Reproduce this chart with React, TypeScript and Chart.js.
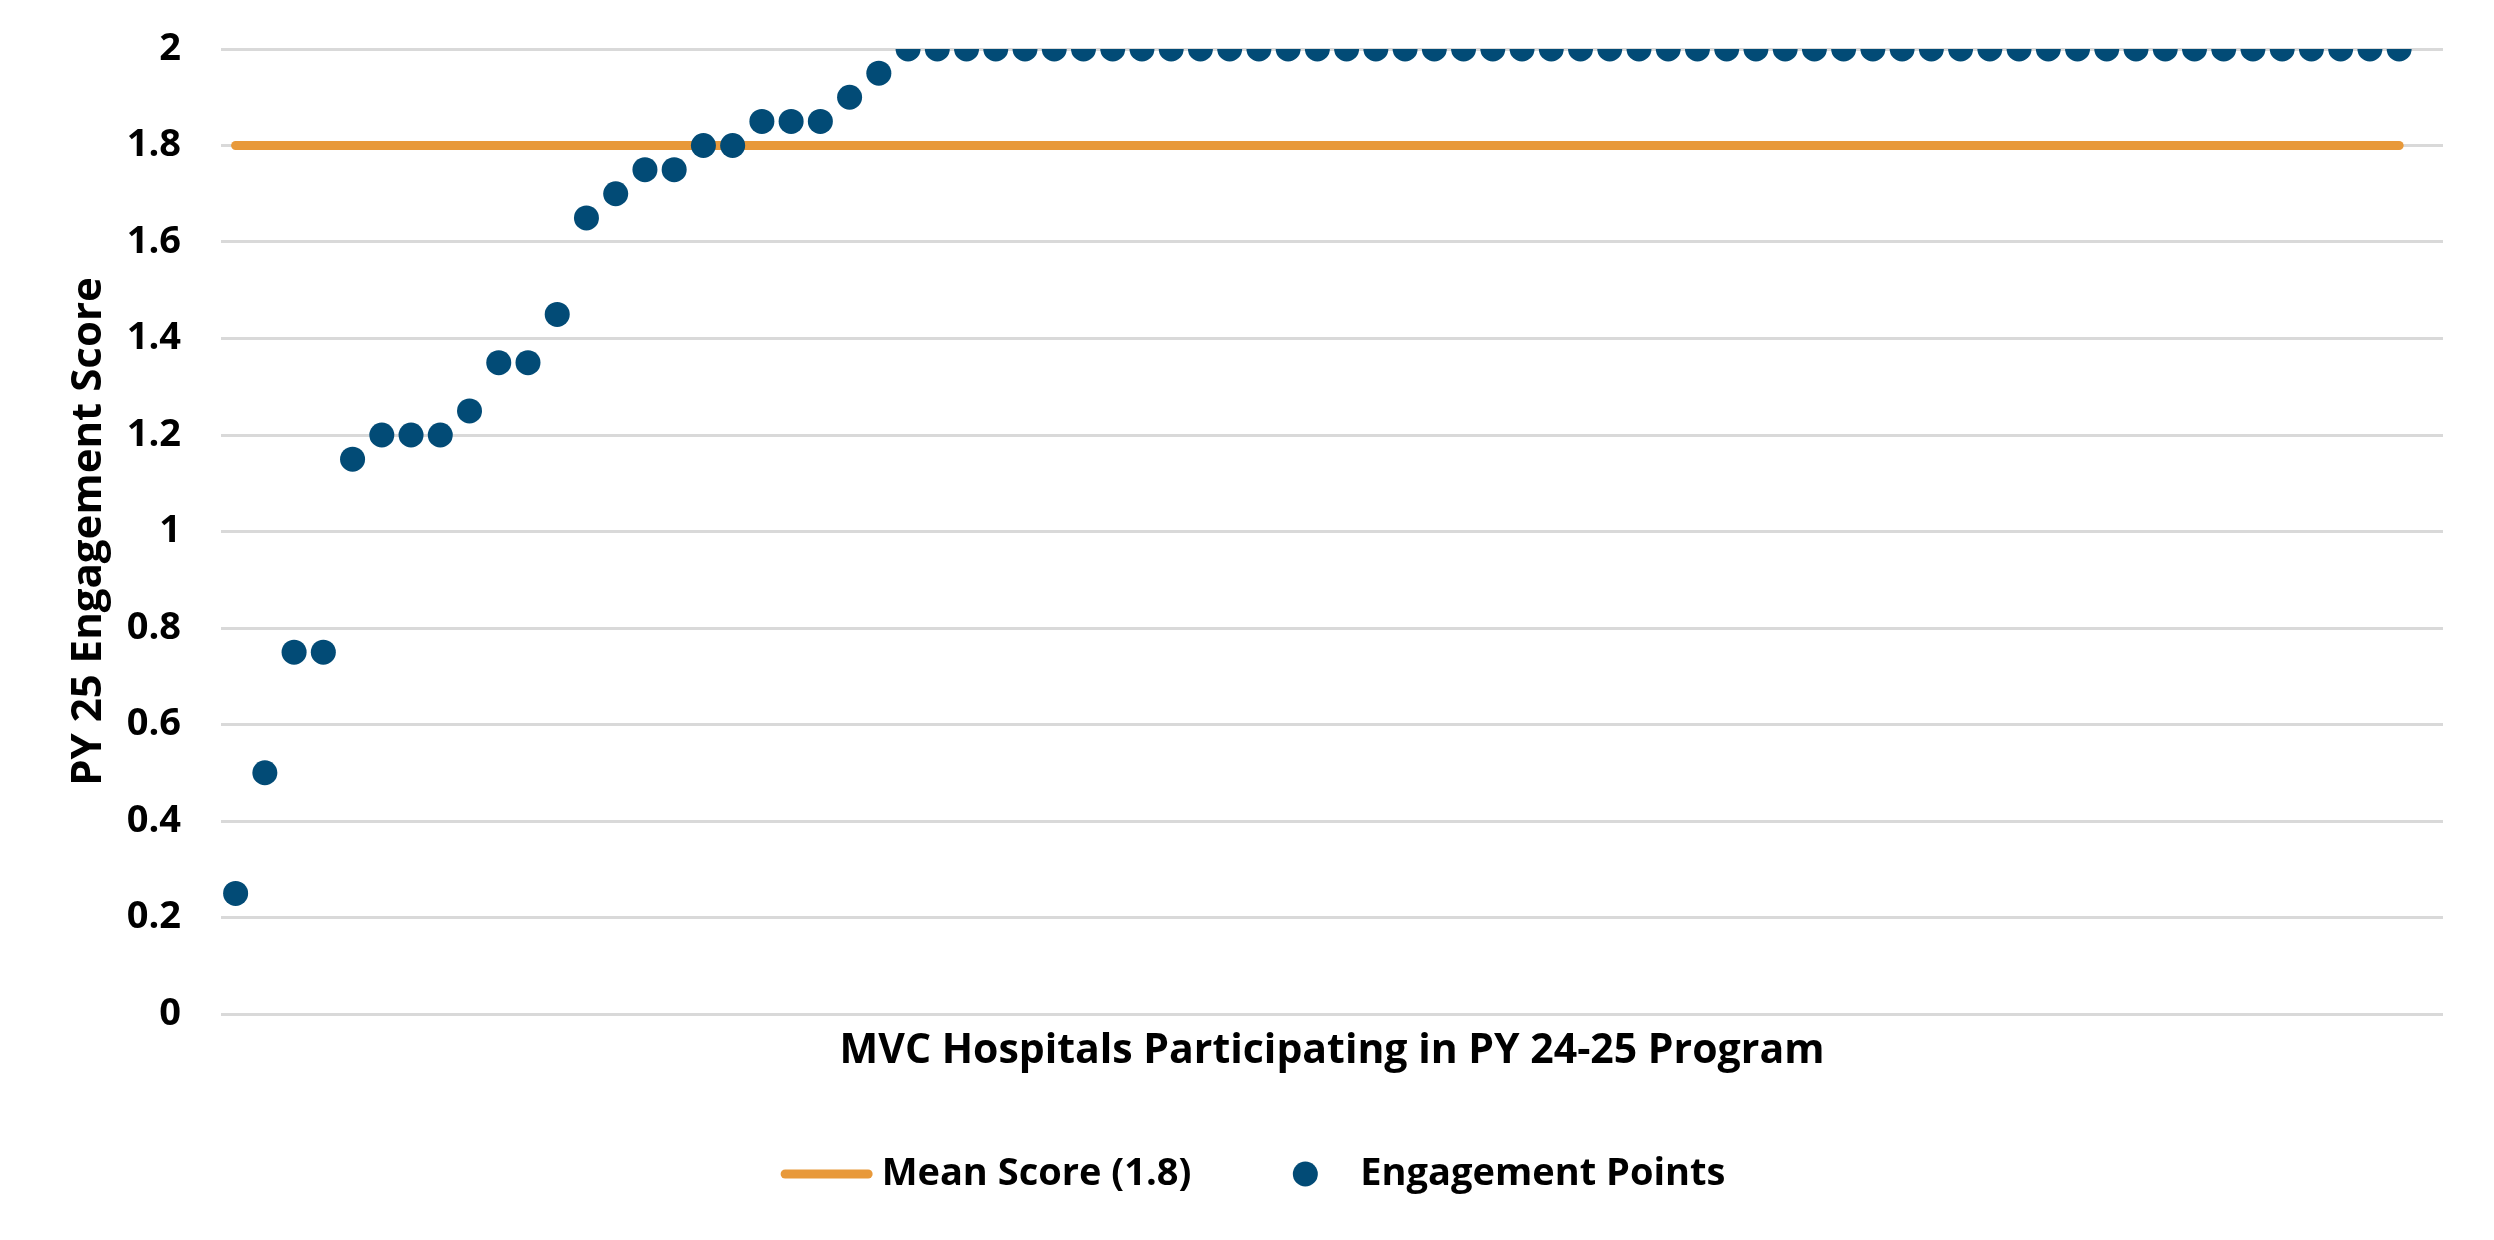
import { useEffect, useRef } from "react";
import { Chart, registerables } from "chart.js";

Chart.register(...registerables);

// Engagement score of each participating hospital, sorted ascending
const engagementScores: number[] = [
  0.25, 0.5, 0.75, 0.75, 1.15, 1.2, 1.2, 1.2, 1.25, 1.35, 1.35, 1.45, 1.65,
  1.7, 1.75, 1.75, 1.8, 1.8, 1.85, 1.85, 1.85, 1.9, 1.95,
  2, 2, 2, 2, 2, 2, 2, 2, 2, 2, 2, 2, 2, 2, 2, 2, 2, 2, 2, 2, 2, 2, 2, 2, 2, 2,
  2, 2, 2, 2, 2, 2, 2, 2, 2, 2, 2, 2, 2, 2, 2, 2, 2, 2, 2, 2, 2, 2, 2, 2, 2, 2,
];

// Hospital slots along the category axis (one more slot than scored hospitals)
const HOSPITAL_SLOTS = 76;
const hospitalLabels: string[] = Array.from(
  { length: HOSPITAL_SLOTS },
  (_, i) => `Hospital ${i + 1}`
);

const MEAN_SCORE = 1.8;
const meanLine: number[] = engagementScores.map(() => MEAN_SCORE);

const yTickValues: number[] = [0, 0.2, 0.4, 0.6, 0.8, 1, 1.2, 1.4, 1.6, 1.8, 2];

const SERIES_LABELS = {
  mean: "Mean Score (1.8)",
  points: "Engagement Points",
};
const X_TITLE = "MVC Hospitals Participating in PY 24-25 Program";
const Y_TITLE = "PY 25 Engagement Score";

const ORANGE = "#E8993A";
const NAVY = "#024B76";
const GRID = "#D9D9D9";
const FONT_FAMILY = '"Open Sans", "Liberation Sans", sans-serif';

// Legend drawn as a single centered row under the axis title
const legendRow = {
  id: "legendRow",
  afterDraw(chart: any) {
    const { ctx, width, height } = chart;
    const symbolBox = 92;
    const symbolGap = 9;
    const itemGap = 68;
    const y = height - 66;
    ctx.save();
    ctx.font = `bold 38px ${FONT_FAMILY}`;
    ctx.textBaseline = "middle";
    ctx.textAlign = "left";
    const items = chart.data.datasets.map((ds: any) => ({
      label: ds.label as string,
      color: (ds.showLine === false ? ds.pointBackgroundColor : ds.borderColor) as string,
      dot: ds.showLine === false,
      radius: ds.pointRadius as number,
      lineWidth: ds.borderWidth as number,
      textWidth: ctx.measureText(ds.label).width as number,
    }));
    const total =
      items.reduce((s: number, it: any) => s + symbolBox + symbolGap + it.textWidth, 0) +
      itemGap * (items.length - 1);
    let x = (width - total) / 2 + 6;
    for (const it of items) {
      if (it.dot) {
        ctx.fillStyle = it.color;
        ctx.beginPath();
        ctx.arc(x + symbolBox / 2, y, it.radius, 0, Math.PI * 2);
        ctx.fill();
      } else {
        ctx.strokeStyle = it.color;
        ctx.lineWidth = it.lineWidth;
        ctx.lineCap = "round";
        ctx.beginPath();
        ctx.moveTo(x + it.lineWidth / 2, y);
        ctx.lineTo(x + symbolBox - it.lineWidth / 2, y);
        ctx.stroke();
      }
      x += symbolBox + symbolGap;
      ctx.fillStyle = "#000";
      ctx.fillText(it.label, x, y);
      x += it.textWidth + itemGap;
    }
    ctx.restore();
  },
};

export default function App() {
  const canvasRef = useRef<HTMLCanvasElement | null>(null);

  useEffect(() => {
    const canvas = canvasRef.current;
    if (!canvas) return;
    Chart.defaults.font.family = FONT_FAMILY;
    Chart.defaults.color = "#000";

    const chart = new Chart(canvas, {
      type: "line",
      data: {
        labels: hospitalLabels,
        datasets: [
          {
            label: SERIES_LABELS.mean,
            data: meanLine,
            borderColor: ORANGE,
            backgroundColor: ORANGE,
            borderWidth: 9,
            borderCapStyle: "round",
            pointRadius: 0,
            pointHoverRadius: 0,
            fill: false,
            order: 1,
          } as any,
          {
            label: SERIES_LABELS.points,
            data: engagementScores,
            showLine: false,
            pointRadius: 12.5,
            pointHoverRadius: 12.5,
            pointBackgroundColor: NAVY,
            pointBorderColor: NAVY,
            pointBorderWidth: 0,
            borderColor: NAVY,
            backgroundColor: NAVY,
            order: 0,
          } as any,
        ],
      },
      options: {
        responsive: false,
        animation: false,
        events: [],
        layout: { padding: { top: 49, right: 51, left: 0, bottom: 130 } },
        plugins: {
          legend: { display: false },
          tooltip: { enabled: false },
        },
        scales: {
          x: {
            type: "category",
            offset: true,
            grid: { display: false },
            border: { display: false },
            ticks: { display: false },
            title: {
              display: true,
              text: X_TITLE,
              color: "#000",
              font: { size: 41, weight: "bold" },
              padding: { top: 0, bottom: 34 },
            },
            afterFit: (scale: any) => {
              scale.height = 96;
            },
          },
          y: {
            min: 0,
            max: 2,
            afterBuildTicks: (scale: any) => {
              scale.ticks = yTickValues.map((value) => ({ value }));
            },
            grid: { color: GRID, lineWidth: 3, drawTicks: false },
            border: { display: false },
            ticks: {
              padding: 40,
              color: "#000",
              font: { size: 38, weight: "bold" },
              callback: (v: any) => String(Number(Number(v).toFixed(2))),
            },
            title: {
              display: true,
              text: Y_TITLE,
              color: "#000",
              font: { size: 42, weight: "bold" },
              padding: { top: 64, bottom: 0 },
            },
            afterFit: (scale: any) => {
              scale.width = 221;
              // the layout padding already leaves room for the end labels
              scale.paddingTop = 0;
              scale.paddingBottom = 0;
            },
          },
        },
      },
      plugins: [legendRow],
    });

    return () => chart.destroy();
  }, []);

  return (
    <div style={{ position: "absolute", left: 0, top: 0, width: 2494, height: 1240, background: "#fff" }}>
      <canvas ref={canvasRef} width={2494} height={1240} style={{ display: "block" }} />
    </div>
  );
}
